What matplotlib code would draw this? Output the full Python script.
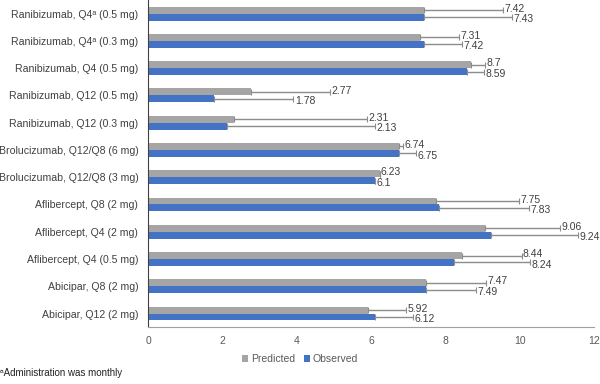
import matplotlib
matplotlib.use("Agg")
import matplotlib.pyplot as plt
import numpy as np

plt.rcParams['font.family'] = ['Liberation Sans', 'DejaVu Sans']

categories = [
    "Ranibizumab, Q4ᵃ (0.5 mg)",
    "Ranibizumab, Q4ᵃ (0.3 mg)",
    "Ranibizumab, Q4 (0.5 mg)",
    "Ranibizumab, Q12 (0.5 mg)",
    "Ranibizumab, Q12 (0.3 mg)",
    "Brolucizumab, Q12/Q8 (6 mg)",
    "Brolucizumab, Q12/Q8 (3 mg)",
    "Aflibercept, Q8 (2 mg)",
    "Aflibercept, Q4 (2 mg)",
    "Aflibercept, Q4 (0.5 mg)",
    "Abicipar, Q8 (2 mg)",
    "Abicipar, Q12 (2 mg)",
]
predicted = [7.42, 7.31, 8.7, 2.77, 2.31, 6.74, 6.23, 7.75, 9.06, 8.44, 7.47, 5.92]
observed = [7.43, 7.42, 8.59, 1.78, 2.13, 6.75, 6.1, 7.83, 9.24, 8.24, 7.49, 6.12]
predicted_err = [2.13, 1.06, 0.36, 2.12, 3.57, 0.12, 0.0, 2.22, 2.03, 1.61, 1.63, 1.03]
observed_err = [2.37, 1.04, 0.44, 2.13, 3.97, 0.47, 0.0, 2.41, 2.34, 2.05, 1.33, 1.00]
pred_labels = ["7.42", "7.31", "8.7", "2.77", "2.31", "6.74", "6.23", "7.75", "9.06", "8.44", "7.47", "5.92"]
obs_labels = ["7.43", "7.42", "8.59", "1.78", "2.13", "6.75", "6.1", "7.83", "9.24", "8.24", "7.49", "6.12"]

fig = plt.figure(figsize=(6, 3.84), dpi=100)
ax = fig.add_axes([0.2467, 0.148, 0.7433, 0.852])

y = np.arange(len(categories))
h = 0.255
gray = "#A5A5A5"
blue = "#4472C4"
ecolor = "#8C8C8C"

ax.barh(y - h/2, predicted, height=h, color=gray, label="Predicted",
        xerr=[np.zeros(len(y)), predicted_err], error_kw=dict(ecolor=ecolor, elinewidth=1, capsize=2, capthick=0.8))
ax.barh(y + h/2, observed, height=h, color=blue, label="Observed",
        xerr=[np.zeros(len(y)), observed_err], error_kw=dict(ecolor=ecolor, elinewidth=1, capsize=2, capthick=0.8))

for i in range(len(y)):
    ax.annotate(pred_labels[i], (predicted[i] + predicted_err[i], y[i] - h/2),
                xytext=(1, 1), textcoords="offset points", va="center", ha="left",
                fontsize=7.5, color="#404040")
    ax.annotate(obs_labels[i], (observed[i] + observed_err[i], y[i] + h/2),
                xytext=(1, -1.5), textcoords="offset points", va="center", ha="left",
                fontsize=7.5, color="#404040")

ax.set_xlim(0, 12)
ax.set_ylim(len(y) - 0.5, -0.5)
ax.set_yticks(y)
ax.set_yticklabels(categories, fontsize=7.6, color="#404040")
ax.set_xticks(range(0, 13, 2))
ax.tick_params(axis="x", labelsize=7.5, colors="#595959", length=0, pad=6)
ax.tick_params(axis="y", length=0, pad=7)
for s in ["top", "right"]:
    ax.spines[s].set_visible(False)
ax.spines["left"].set_color("#404040")
ax.spines["bottom"].set_color("#A0A0A0")

handles, labels = ax.get_legend_handles_labels()
fig.legend(handles, labels, loc="center", bbox_to_anchor=(0.5, 0.065), ncol=2,
           frameon=False, fontsize=7.5, handlelength=0.6, handleheight=0.6,
           handletextpad=0.3, columnspacing=0.8, labelcolor="#595959")

fig.text(0.0, 0.015, "ᵃAdministration was monthly", fontsize=7, color="#222222", ha="left", va="bottom")

fig.savefig("out.png", dpi=100)
